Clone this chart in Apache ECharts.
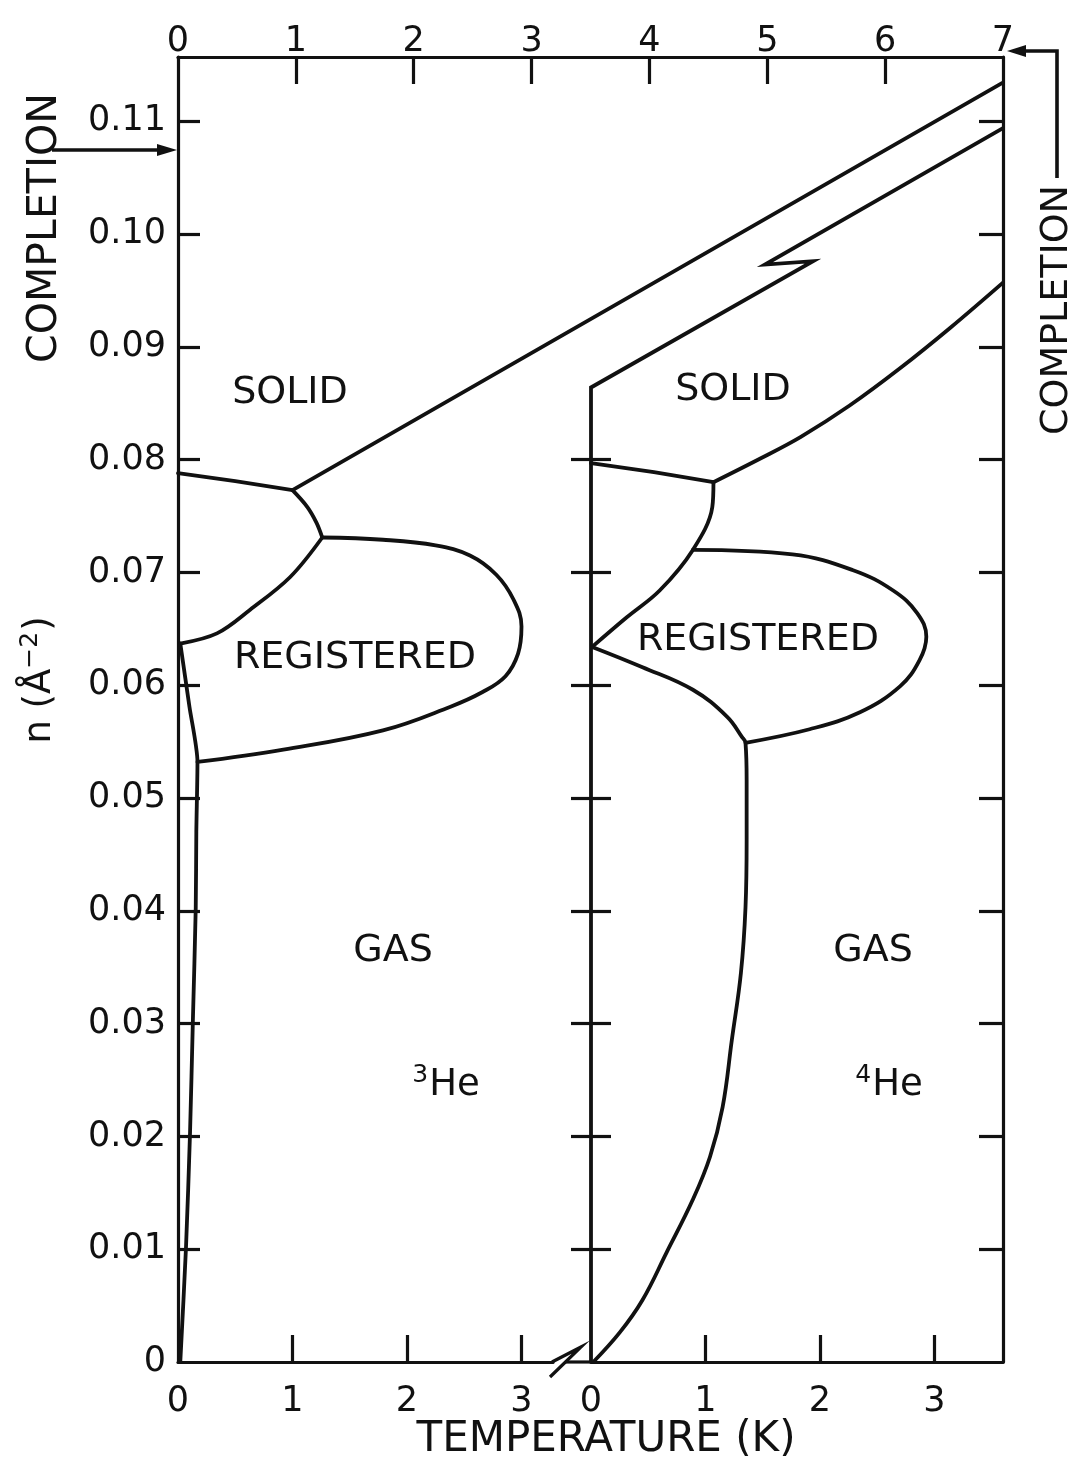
<!DOCTYPE html>
<html>
<head>
<meta charset="utf-8">
<script src="https://cdn.jsdelivr.net/npm/echarts@6/dist/echarts.min.js"></script>
<style>
  html, body { margin: 0; padding: 0; background: #fff; }
  #chart { width: 1075px; height: 1468px; }
</style>
</head>
<body>
<div id="chart"></div>
<script>
// Phase diagrams of 3He and 4He monolayers: temperature T (K) vs coverage n (Å^-2)

// ---- tick values ----
const coverageTicks = [0, 0.01, 0.02, 0.03, 0.04, 0.05, 0.06, 0.07, 0.08, 0.09, 0.10, 0.11];
const he4AxisTicks = [0.01, 0.02, 0.03, 0.04, 0.05, 0.06, 0.07, 0.08];
const topTicks = [0, 1, 2, 3, 4, 5, 6, 7];
const he3TempTicks = [0, 1, 2, 3];
const he4TempTicks = [0, 1, 2, 3];

// ---- 3He phase boundaries [T, n] ----
const he3SolidFluid = [[0, 0.0788], [0.5, 0.0781], [1.0, 0.0773]];
const he3SolidUpper = [[1.0, 0.0773], [7.2, 0.1134]];
const he3TripleLink = [[1.0, 0.0773], [1.13, 0.0758], [1.21, 0.0744], [1.26, 0.0731]];
const he3Registered = [
  [1.26, 0.0731], [1.79, 0.0729], [2.25, 0.0724], [2.55, 0.0715], [2.78, 0.0698],
  [2.93, 0.0676], [3.00, 0.0652], [2.97, 0.0628], [2.86, 0.0608], [2.66, 0.0594],
  [2.38, 0.0581], [1.79, 0.0560], [0.92, 0.0543], [0.17, 0.0532]
];
const he3FluidLow = [[1.26, 0.0731], [0.98, 0.0696], [0.63, 0.0667], [0.34, 0.0646], [0.02, 0.0637]];
const he3GasEdge = [
  [0.02, 0.0637], [0.10, 0.0581], [0.17, 0.0532], [0.16, 0.0470], [0.155, 0.0403],
  [0.13, 0.0303], [0.105, 0.0203], [0.07, 0.0102], [0.02, 0.0]
];

// ---- 4He phase boundaries [T, n] ----
const he4SolidUpper = [[0, 0], [0, 0.0864], [1.94, 0.0976], [1.52, 0.0973], [3.6, 0.1094]];
const he4SolidFluid = [[0, 0.0797], [0.55, 0.0789], [1.07, 0.0780]];
const he4SolidLower = [
  [1.07, 0.0780], [1.48, 0.0801], [1.83, 0.0820], [2.26, 0.0848],
  [2.70, 0.0881], [3.14, 0.0917], [3.6, 0.0957]
];
const he4FluidRegistered = [[1.07, 0.0780], [1.06, 0.0758], [0.89, 0.0720], [0.60, 0.0684], [0.31, 0.0660], [0.01, 0.0634]];
const he4Registered = [
  [0.89, 0.0720], [1.76, 0.0716], [2.29, 0.0702], [2.64, 0.0684], [2.85, 0.0664],
  [2.93, 0.0643], [2.87, 0.0622], [2.70, 0.0599], [2.35, 0.0576], [1.91, 0.0561], [1.35, 0.0549]
];
const he4GasEdge = [
  [0.01, 0.0634], [0.45, 0.0616], [0.89, 0.0596], [1.19, 0.0572], [1.32, 0.0554], [1.35, 0.0549],
  [1.36, 0.0516], [1.36, 0.0463], [1.35, 0.0403], [1.31, 0.0345], [1.23, 0.0285],
  [1.15, 0.0226], [1.04, 0.0182], [0.89, 0.0144], [0.66, 0.0097], [0.45, 0.0055],
  [0.25, 0.0026], [0.02, 0.0]
];

// ---- layout ----
const INK = '#111';
const FONT = 'DejaVu Sans';
const BOX = { left: 178, top: 57, width: 825, height: 1305 };
const SPLIT_X = 591;      // origin of the 4He temperature axis
const BREAK_X = 553;      // end of the 3He bottom axis line
const PX_PER_K = 114.5;
const N_MAX = 0.1157;
const AXIS_W = 3.2;
const CURVE_W = 3.8;

const he3Max = (BREAK_X - BOX.left) / PX_PER_K;
const he3FrameMax = BOX.width / PX_PER_K;   // 3He temperature scale carried across the frame
const he4Max = 3.6;

const fmtN = v => (v === 0 ? '0' : v.toFixed(2));

function boundary(data, xi, yi, opts) {
  return Object.assign({
    type: 'line', data, xAxisIndex: xi, yAxisIndex: yi,
    symbol: 'none', smooth: 0.35, silent: true, animation: false,
    lineStyle: { color: INK, width: CURVE_W, cap: 'round', join: 'round' }
  }, opts || {});
}

function text(str, x, y, size, extra) {
  return Object.assign({
    type: 'text', x, y, silent: true,
    style: { text: str, fill: INK, fontSize: size, fontFamily: FONT, align: 'center', verticalAlign: 'middle' }
  }, extra || {});
}

function richText(str, x, y, rich, extra) {
  return Object.assign({
    type: 'text', x, y, silent: true,
    style: { text: str, fill: INK, fontFamily: FONT, align: 'center', verticalAlign: 'middle', rich }
  }, extra || {});
}

const supRich = {
  b: { fontSize: 37, fontFamily: FONT, fill: INK },
  s: { fontSize: 25, fontFamily: FONT, fill: INK, padding: [0, 1, 20, 0] }
};

const tickStyle = { color: INK, width: AXIS_W };
const lineStyle = { color: INK, width: AXIS_W };
const labelFont = { color: INK, fontSize: 35, fontFamily: FONT };

const option = {
  backgroundColor: '#fff',
  animation: false,
  grid: [
    { left: BOX.left, top: BOX.top, width: BOX.width, height: BOX.height },
    { left: BOX.left, top: BOX.top, width: BREAK_X - BOX.left, height: BOX.height },
    { left: SPLIT_X, top: BOX.top, width: BOX.left + BOX.width - SPLIT_X, height: BOX.height }
  ],
  xAxis: [
    {
      gridIndex: 0, type: 'value', position: 'top', min: 0, max: 7, interval: 1,
      axisLine: { show: true, onZero: false, lineStyle },
      axisTick: { show: true, inside: true, length: 27, lineStyle: tickStyle, customValues: [1, 2, 3, 4, 5, 6] },
      axisLabel: Object.assign({ show: true, margin: -2, customValues: topTicks }, labelFont),
      splitLine: { show: false }
    },
    {
      gridIndex: 1, type: 'value', position: 'bottom', min: 0, max: he3Max,
      axisLine: { show: true, onZero: false, lineStyle },
      axisTick: { show: true, inside: true, length: 27, lineStyle: tickStyle, customValues: [1, 2, 3] },
      axisLabel: Object.assign({ show: true, margin: 22, customValues: he3TempTicks }, labelFont),
      splitLine: { show: false }
    },
    {
      gridIndex: 2, type: 'value', position: 'bottom', min: 0, max: he4Max,
      axisLine: { show: true, onZero: false, lineStyle },
      axisTick: { show: true, inside: true, length: 27, lineStyle: tickStyle, customValues: [1, 2, 3] },
      axisLabel: Object.assign({ show: true, margin: 22, customValues: he4TempTicks }, labelFont),
      splitLine: { show: false }
    },
    {
      gridIndex: 0, type: 'value', position: 'bottom', min: 0, max: he3FrameMax, show: false
    }
  ],
  yAxis: [
    {
      gridIndex: 0, type: 'value', position: 'left', min: 0, max: N_MAX,
      axisLine: { show: true, onZero: false, lineStyle },
      axisTick: { show: true, inside: true, length: 22, lineStyle: tickStyle, customValues: coverageTicks.slice(1) },
      axisLabel: Object.assign({ show: true, margin: 12, formatter: fmtN, customValues: coverageTicks }, labelFont),
      splitLine: { show: false }
    },
    {
      gridIndex: 0, type: 'value', position: 'right', min: 0, max: N_MAX,
      axisLine: { show: true, onZero: false, lineStyle },
      axisTick: { show: true, inside: true, length: 24, lineStyle: tickStyle, customValues: coverageTicks.slice(1) },
      axisLabel: { show: false },
      splitLine: { show: false }
    },
    {
      gridIndex: 1, type: 'value', min: 0, max: N_MAX, show: false
    },
    {
      gridIndex: 2, type: 'value', position: 'left', min: 0, max: N_MAX,
      axisLine: { show: false, onZero: false },
      axisTick: { show: true, inside: true, length: 20, lineStyle: tickStyle, customValues: he4AxisTicks },
      axisLabel: { show: false },
      splitLine: { show: false }
    },
    {
      gridIndex: 2, type: 'value', position: 'left', min: 0, max: N_MAX,
      axisLine: { show: false, onZero: false },
      axisTick: { show: true, inside: false, length: 20, lineStyle: tickStyle, customValues: he4AxisTicks },
      axisLabel: { show: false },
      splitLine: { show: false }
    }
  ],
  series: [
    // 3He
    boundary(he3SolidFluid, 1, 2, { smooth: false }),
    boundary(he3SolidUpper, 3, 0, { smooth: false }),
    boundary(he3TripleLink, 1, 2),
    boundary(he3Registered, 1, 2, { smooth: 0.4 }),
    boundary(he3FluidLow, 1, 2),
    boundary(he3GasEdge, 1, 2, { smooth: 0.25 }),
    // 4He
    boundary(he4SolidUpper, 2, 3, { smooth: false, lineStyle: { color: INK, width: CURVE_W, join: 'miter' } }),
    boundary(he4SolidFluid, 2, 3, { smooth: false }),
    boundary(he4SolidLower, 2, 3),
    boundary(he4FluidRegistered, 2, 3),
    boundary(he4Registered, 2, 3, { smooth: 0.4 }),
    boundary(he4GasEdge, 2, 3, { smooth: 0.4 })
  ],
  graphic: [
    // break mark on the temperature axis between the two panels
    { type: 'polyline', silent: true, shape: { points: [[BREAK_X - 1, 1362], [581, 1347], [550, 1377]] },
      style: { stroke: INK, lineWidth: AXIS_W, fill: null, lineJoin: 'miter' } },
    { type: 'line', silent: true, shape: { x1: 566, y1: 1362, x2: SPLIT_X, y2: 1362 },
      style: { stroke: INK, lineWidth: AXIS_W } },

    // completion markers
    { type: 'line', silent: true, shape: { x1: 52, y1: 150, x2: 162, y2: 150 },
      style: { stroke: INK, lineWidth: 3.6 } },
    { type: 'polygon', silent: true, shape: { points: [[177, 150], [157, 144], [157, 156]] },
      style: { fill: INK } },
    { type: 'polyline', silent: true, shape: { points: [[1057, 178], [1057, 51], [1022, 51]] },
      style: { stroke: INK, lineWidth: 3.6, fill: null } },
    { type: 'polygon', silent: true, shape: { points: [[1007, 51], [1026, 45], [1026, 57]] },
      style: { fill: INK } },

    // axis titles
    text('COMPLETION', 45, 228, 41, { rotation: Math.PI / 2 }),
    text('COMPLETION', 1057, 310, 38, { rotation: Math.PI / 2 }),
    richText('{b|n (Å}{s|−2}{b|)}', 40, 680, supRich, { rotation: Math.PI / 2 }),
    text('TEMPERATURE (K)', 606, 1440, 42),

    // phase regions
    text('SOLID', 290, 393, 38),
    text('SOLID', 733, 390, 38),
    text('REGISTERED', 355, 658, 38),
    text('REGISTERED', 758, 640, 38),
    text('GAS', 393, 951, 38),
    text('GAS', 873, 951, 38),
    richText('{s|3}{b|He}', 446, 1085, supRich),
    richText('{s|4}{b|He}', 889, 1085, supRich)
  ]
};

const chart = echarts.init(document.getElementById('chart'), null, { renderer: 'canvas' });
chart.setOption(option);
</script>
</body>
</html>
